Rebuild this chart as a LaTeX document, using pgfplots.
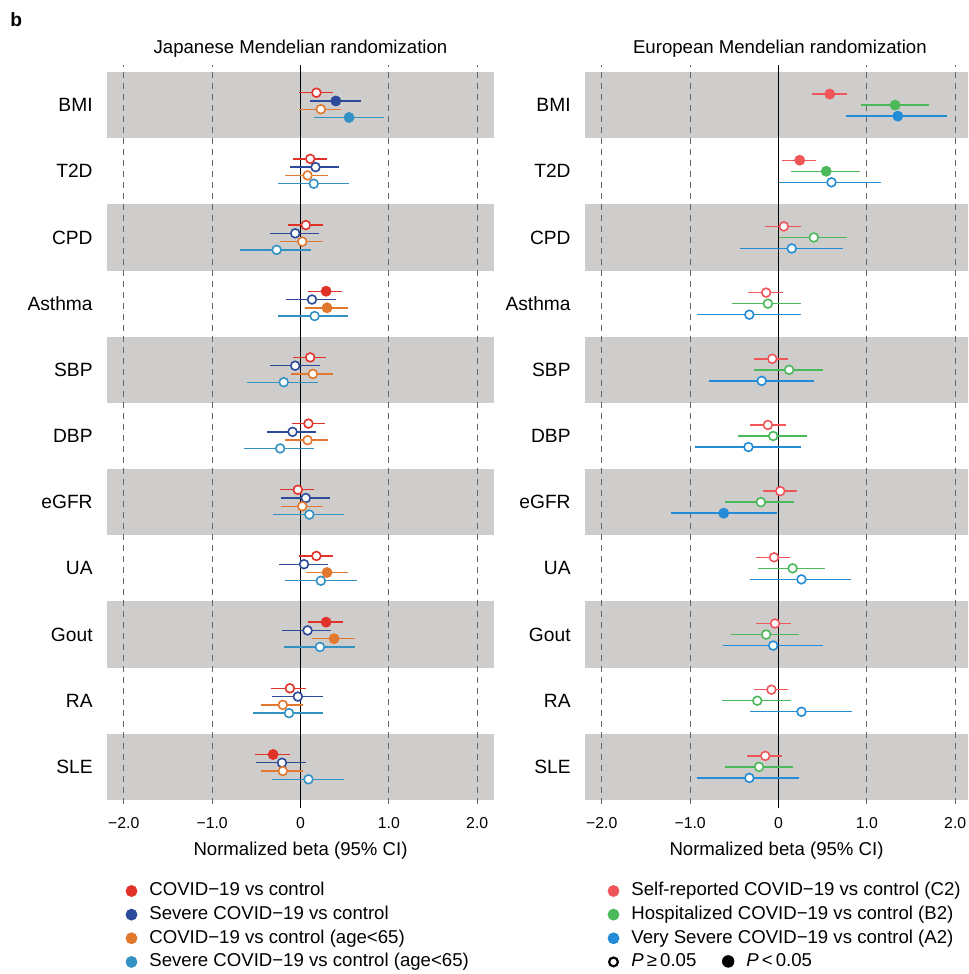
\documentclass[border=0pt]{standalone}
\usepackage{pgfplots}
\pgfplotsset{compat=1.18}
\usepackage{pgfplotstable}
\usepackage{fontspec}
\setmainfont{Liberation Sans}

\definecolor{band}{HTML}{CFCCCC}
\definecolor{gline}{HTML}{666666}
\definecolor{jr}{HTML}{E1322A}
\definecolor{jn}{HTML}{2C4A9A}
\definecolor{jo}{HTML}{E1782D}
\definecolor{jb}{HTML}{3391C4}
\definecolor{er}{HTML}{F0555A}
\definecolor{eg}{HTML}{4BB95A}
\definecolor{eb}{HTML}{238CD7}

\newcommand\fA{\fontsize{9.3}{11}\selectfont}
\newcommand\fY{\fontsize{9.6}{11}\selectfont}
\newcommand\fT{\fontsize{7.9}{9}\selectfont}

% Japanese MR
\pgfplotstableread{
row b lo hi sig
1 0.18 -0.02 0.37 0
2 0.11 -0.09 0.30 0
3 0.06 -0.14 0.25 0
4 0.29 0.08 0.47 1
5 0.11 -0.09 0.29 0
6 0.09 -0.10 0.28 0
7 -0.03 -0.23 0.15 0
8 0.18 -0.02 0.37 0
9 0.29 0.09 0.48 1
10 -0.12 -0.33 0.06 0
11 -0.31 -0.51 -0.12 1
}\jpr
\pgfplotstableread{
row b lo hi sig
1 0.40 0.11 0.68 1
2 0.17 -0.12 0.44 0
3 -0.06 -0.35 0.21 0
4 0.13 -0.16 0.40 0
5 -0.06 -0.35 0.22 0
6 -0.09 -0.38 0.18 0
7 0.06 -0.22 0.33 0
8 0.04 -0.24 0.31 0
9 0.08 -0.21 0.34 0
10 -0.03 -0.32 0.25 0
11 -0.21 -0.50 0.06 0
}\jpn
\pgfplotstableread{
row b lo hi sig
1 0.23 -0.02 0.46 0
2 0.08 -0.17 0.31 0
3 0.02 -0.23 0.25 0
4 0.30 0.05 0.54 1
5 0.14 -0.11 0.37 0
6 0.08 -0.17 0.31 0
7 0.02 -0.22 0.26 0
8 0.30 0.06 0.54 1
9 0.38 0.13 0.62 1
10 -0.20 -0.45 0.03 0
11 -0.20 -0.45 0.03 0
}\jpo
\pgfplotstableread{
row b lo hi sig
1 0.55 0.15 0.95 1
2 0.15 -0.26 0.55 0
3 -0.27 -0.68 0.12 0
4 0.16 -0.26 0.54 0
5 -0.19 -0.60 0.20 0
6 -0.23 -0.64 0.15 0
7 0.10 -0.31 0.49 0
8 0.23 -0.18 0.64 0
9 0.22 -0.19 0.62 0
10 -0.13 -0.54 0.26 0
11 0.09 -0.32 0.49 0
}\jpb
% European MR
\pgfplotstableread{
row b lo hi sig
1 0.58 0.38 0.77 1
2 0.24 0.04 0.43 1
3 0.06 -0.15 0.25 0
4 -0.14 -0.34 0.05 0
5 -0.07 -0.28 0.11 0
6 -0.12 -0.32 0.08 0
7 0.02 -0.18 0.21 0
8 -0.05 -0.26 0.13 0
9 -0.04 -0.25 0.14 0
10 -0.08 -0.28 0.11 0
11 -0.15 -0.36 0.04 0
}\eur
\pgfplotstableread{
row b lo hi sig
1 1.32 0.93 1.70 1
2 0.54 0.14 0.92 1
3 0.40 0.00 0.77 0
4 -0.12 -0.53 0.26 0
5 0.12 -0.28 0.50 0
6 -0.06 -0.46 0.32 0
7 -0.20 -0.61 0.18 0
8 0.16 -0.23 0.53 0
9 -0.14 -0.54 0.23 0
10 -0.24 -0.64 0.14 0
11 -0.22 -0.61 0.16 0
}\eug
\pgfplotstableread{
row b lo hi sig
1 1.35 0.76 1.91 1
2 0.60 0.00 1.16 0
3 0.15 -0.44 0.73 0
4 -0.33 -0.92 0.25 0
5 -0.19 -0.79 0.40 0
6 -0.34 -0.95 0.25 0
7 -0.62 -1.22 -0.02 1
8 0.26 -0.32 0.82 0
9 -0.06 -0.63 0.50 0
10 0.26 -0.32 0.83 0
11 -0.33 -0.92 0.23 0
}\eub

\pgfplotsset{
  forest/.style={
    scale only axis, width=193.5pt, height=371pt, anchor=south west,
    xmin=-2.19, xmax=2.19, ymin=0.394, ymax=11.606, y dir=reverse,
    axis line style={draw=none}, major tick length=0pt,
    xtick={-2,-1,0,1,2}, xticklabels={−2.0,−1.0,0,1.0,2.0},
    ytick={1,2,3,4,5,6,7,8,9,10,11},
    yticklabels={BMI,T2D,CPD,Asthma,SBP,DBP,eGFR,UA,Gout,RA,SLE},
    xticklabel style={font=\fT, anchor=north, inner sep=0pt, yshift=-5pt},
    yticklabel style={font=\fY, anchor=east, inner sep=0pt, xshift=-7pt},
    xlabel={Normalized beta (95\% CI)},
    xlabel style={font=\fA, at={(axis description cs:0.5,0)}, anchor=base, yshift=-24pt},
    title style={font=\fA, at={(axis description cs:0.5,1)}, anchor=base, yshift=-0.5pt},
    legend cell align=left,
    legend style={draw=none, fill=none, inner sep=0pt, outer sep=0pt,
      row sep=2.62pt, column sep=6pt, font=\fA,
      nodes={inner sep=0pt, text height=7pt, text depth=2.2pt},
      at={(axis description cs:0,0)}, anchor=north west},
  },
  bandp/.style={draw=none, fill=band, forget plot},
  vline/.style={gline, line width=0.55pt, dash pattern=on 3pt off 2.5pt, forget plot},
  zline/.style={black, line width=0.8pt, forget plot},
}

\newcommand\bands{%
  \addplot[bandp] coordinates {(-3,0.5) (3,0.5) (3,1.5) (-3,1.5)} -- cycle;
  \addplot[bandp] coordinates {(-3,2.5) (3,2.5) (3,3.5) (-3,3.5)} -- cycle;
  \addplot[bandp] coordinates {(-3,4.5) (3,4.5) (3,5.5) (-3,5.5)} -- cycle;
  \addplot[bandp] coordinates {(-3,6.5) (3,6.5) (3,7.5) (-3,7.5)} -- cycle;
  \addplot[bandp] coordinates {(-3,8.5) (3,8.5) (3,9.5) (-3,9.5)} -- cycle;
  \addplot[bandp] coordinates {(-3,10.5) (3,10.5) (3,11.5) (-3,11.5)} -- cycle;
  \addplot[vline] coordinates {(-2,0) (-2,12)};
  \addplot[vline] coordinates {(-1,0) (-1,12)};
  \addplot[vline] coordinates {(1,0) (1,12)};
  \addplot[vline] coordinates {(2,0) (2,12)};
  \addplot[zline] coordinates {(0,0) (0,12)};
}

\newcommand\cis[3]{%
  \addplot[forget plot, only marks, mark=none,
    error bars/.cd, x dir=both, x explicit, error mark=none,
    error bar style={draw=#2, line width=0.72pt, solid}]
    table[x=b, y expr=\thisrow{row}+(#3),
      x error plus expr=\thisrow{hi}-\thisrow{b},
      x error minus expr=\thisrow{b}-\thisrow{lo}] {#1};
  \addplot[forget plot, only marks, mark=*, mark size=2.5pt,
    mark options={fill=#2, draw=#2, line width=0.4pt},
    restrict expr to domain={\thisrow{sig}}{0.5:1.5}]
    table[x=b, y expr=\thisrow{row}+(#3)] {#1};
  \addplot[forget plot, only marks, mark=*, mark size=2.2pt,
    mark options={fill=white, draw=#2, line width=0.8pt},
    restrict expr to domain={\thisrow{sig}}{-0.5:0.5}]
    table[x=b, y expr=\thisrow{row}+(#3)] {#1};
}

\begin{document}
\begin{tikzpicture}
\path (0pt,0pt) rectangle (484pt,487pt);

\node[anchor=base west, inner sep=0pt, font=\bfseries\fY] at (5pt,473.5pt) {b};

\begin{axis}[forest, at={(53.5pt,83.5pt)},
  title={Japanese Mendelian randomization},
  legend style={xshift=9.3pt, yshift=-37.4pt}]
\bands
\cis{\jpr}{jr}{-0.1875}
\cis{\jpn}{jn}{-0.0625}
\cis{\jpo}{jo}{0.0625}
\cis{\jpb}{jb}{0.1875}
\addlegendimage{legend image code/.code={\fill[jr] (0pt,0pt) circle (2.75pt);}}
\addlegendentry{COVID−19 vs control}
\addlegendimage{legend image code/.code={\fill[jn] (0pt,0pt) circle (2.75pt);}}
\addlegendentry{Severe COVID−19 vs control}
\addlegendimage{legend image code/.code={\fill[jo] (0pt,0pt) circle (2.75pt);}}
\addlegendentry{COVID−19 vs control (age<65)}
\addlegendimage{legend image code/.code={\fill[jb] (0pt,0pt) circle (2.75pt);}}
\addlegendentry{Severe COVID−19 vs control (age<65)}
\end{axis}

\begin{axis}[forest, at={(292.5pt,83.5pt)}, width=191.5pt, xmax=2.145,
  title={European Mendelian randomization},
  title style={xshift=1.7pt},
  legend style={xshift=11.3pt, yshift=-37.4pt}]
\bands
\cis{\eur}{er}{-0.1667}
\cis{\eug}{eg}{0}
\cis{\eub}{eb}{0.1667}
\addlegendimage{legend image code/.code={\fill[er] (0pt,0pt) circle (2.75pt);}}
\addlegendentry{Self-reported COVID−19 vs control (C2)}
\addlegendimage{legend image code/.code={\fill[eg] (0pt,0pt) circle (2.75pt);}}
\addlegendentry{Hospitalized COVID−19 vs control (B2)}
\addlegendimage{legend image code/.code={\fill[eb] (0pt,0pt) circle (2.75pt);}}
\addlegendentry{Very Severe COVID−19 vs control (A2)}
\addlegendimage{legend image code/.code={\draw[black, line width=1.1pt] (0pt,0pt) circle (2.2pt);}}
\addlegendentry{\textit{P}\,≥\,0.05}
\end{axis}

\begin{axis}[forest, at={(292.5pt,83.5pt)}, width=191.5pt, xmax=2.145, hide axis,
  legend style={xshift=68.5pt, yshift=-72.6pt}]
\addlegendimage{legend image code/.code={\fill[black] (0pt,0pt) circle (2.9pt);}}
\addlegendentry{\textit{P}\,<\,0.05}
\end{axis}
\end{tikzpicture}
\end{document}
